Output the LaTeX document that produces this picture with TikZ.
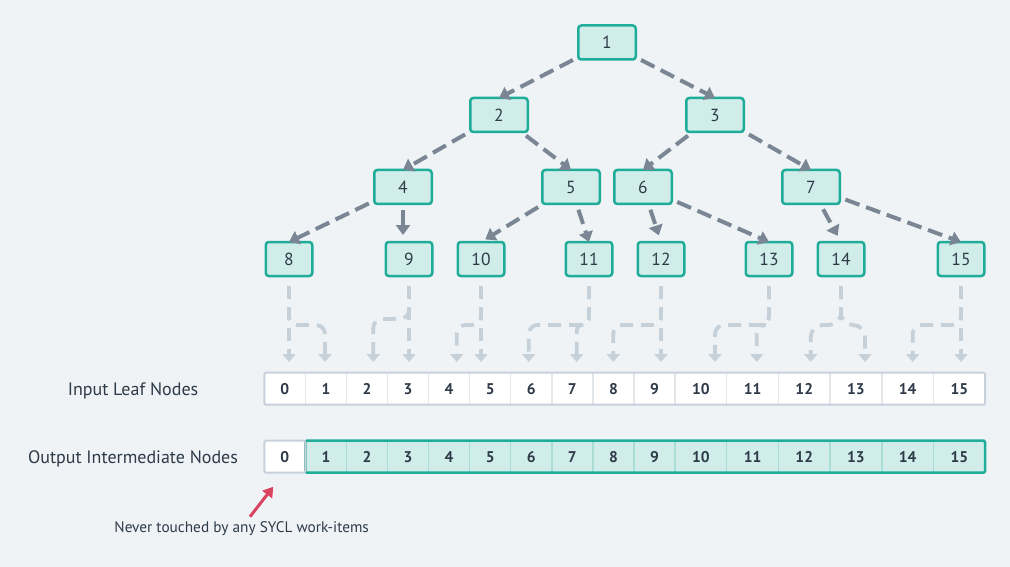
\documentclass[tikz,border=0pt]{standalone}
\usepackage{fontspec}
\setmainfont{PT Sans}
\usetikzlibrary{arrows.meta,calc}
\definecolor{bgc}{HTML}{EFF3F6}
\definecolor{tealb}{HTML}{1FAD9A}
\definecolor{tealf}{HTML}{D0EDEA}
\definecolor{tealdiv}{HTML}{A8DDD5}
\definecolor{darka}{HTML}{7A8694}
\definecolor{lighta}{HTML}{C6D0D9}
\definecolor{grayb}{HTML}{C8D1D9}
\definecolor{grayd}{HTML}{E2E7EC}
\definecolor{txt}{HTML}{2E3A48}
\definecolor{redc}{HTML}{D9435F}
\begin{document}
\begin{tikzpicture}[x=1pt,y=-1pt,
  tnode/.style={draw=tealb, fill=tealf, line width=2.5pt, rounded corners=3pt,
    minimum width=57.5pt, minimum height=34pt, inner sep=0pt, outer sep=0pt,
    text=txt, font=\fontsize{17.5}{17.5}\selectfont},
  lnode/.style={tnode, minimum width=46.5pt},
  treearrow/.style={draw=darka, line width=4pt, dash pattern=on 15pt off 7pt,
    -{Triangle[width=14pt,length=10pt]}, shorten <=6pt},
  leafarrow/.style={draw=lighta, line width=3.8pt, dash pattern=on 13pt off 8pt,
    -{Triangle[width=13pt,length=8pt]}, shorten <=10pt, rounded corners=9pt},
  cellnode/.style={inner sep=0pt, outer sep=0pt, minimum height=32pt,
    text=txt, font=\fontsize{15.5}{15.5}\selectfont\bfseries},
  label/.style={text=txt, font=\fontsize{18}{18}\selectfont, anchor=base},
  divider/.style={draw=grayd, line width=1.5pt},
  tdivider/.style={draw=tealdiv, line width=1.5pt},
  redarrow/.style={draw=redc, line width=3pt, -{Triangle[width=12pt,length=10pt]}}
]
\fill[bgc] (0,0) rectangle (1010,567);
\useasboundingbox (0,0) rectangle (1010,567);

% tree nodes
\node[tnode] (n1) at (607,42.5) {1};
\node[tnode] (n2) at (499,115) {2};
\node[tnode] (n3) at (715,115) {3};
\node[tnode] (n4) at (403,187) {4};
\node[tnode] (n5) at (571,187) {5};
\node[tnode] (n6) at (643,187) {6};
\node[tnode] (n7) at (811,187) {7};
\node[lnode] (n8) at (289,259) {8};
\node[lnode] (n9) at (409,259) {9};
\node[lnode] (n10) at (481,259) {10};
\node[lnode] (n11) at (589,259) {11};
\node[lnode] (n12) at (661,259) {12};
\node[lnode] (n13) at (769,259) {13};
\node[lnode] (n14) at (841,259) {14};
\node[lnode] (n15) at (961,259) {15};

% tree arrows
\draw[treearrow] (n1) -- (n2.north);
\draw[treearrow] (n1) -- (n3.north);
\draw[treearrow] (n2) -- (n4.north);
\draw[treearrow] (n2) -- (n5.north);
\draw[treearrow] (n3) -- (n6.north);
\draw[treearrow] (n3) -- (n7.north);
\draw[treearrow] (n4) -- (n8.north);
\draw[treearrow, shorten >=7pt] (n4) -- (n4 |- n9.north);
\draw[treearrow, shorten >=5pt] (n5) -- (n10.north);
\draw[treearrow] (n5) -- (n11.north);
\draw[treearrow, shorten >=7pt] (n6) -- (n12.north);
\draw[treearrow] (n6) -- (n13.north);
\draw[treearrow, shorten >=7pt] (n7) -- (n14.north);
\draw[treearrow] (n7) -- (n15.north);

% arrays
\foreach \i in {0,...,15} {
  \pgfmathsetmacro{\cx}{\i<10 ? 264.3+41.07*\i+20.535 : 675+51.7*(\i-10)+25.85}
  \pgfmathsetmacro{\w}{\i<10 ? 41.07 : 51.7}
  \node[cellnode, fill=white, minimum width=\w pt] (i\i) at (\cx,388.7) {\i};
  \ifnum\i=0
    \node[cellnode, fill=white, minimum width=\w pt] (o\i) at (\cx,456.7) {\i};
  \else
    \node[cellnode, fill=tealf, minimum width=\w pt] (o\i) at (\cx,456.7) {\i};
  \fi
}
\foreach \i in {1,...,15} {
  \draw[divider] (i\i.north west) -- (i\i.south west);
}
\foreach \i in {2,...,15} {
  \draw[tdivider] (o\i.north west) -- (o\i.south west);
}
\draw[draw=grayb, line width=2pt, rounded corners=1.5pt] (i0.north west) rectangle (i15.south east);
\draw[draw=tealb, line width=2.5pt, rounded corners=1.5pt] (o1.north west) rectangle (o15.south east);
\draw[draw=grayb, line width=2pt, rounded corners=1.5pt] (o0.north west) rectangle (o0.south east);

% labels
\node[label] (lin) at (133,395.5) {Input Leaf Nodes};
\node[label] (lout) at (133,463) {Output Intermediate Nodes};

% leaf-to-array arrows
\coordinate (hA) at (0,325);
\coordinate (hB) at (0,319);
\coordinate (t0) at (289,362);
\coordinate (t1) at (325,362);
\coordinate (t2) at (373.3,362);
\coordinate (t3) at (409,362);
\coordinate (t4) at (456.7,362);
\coordinate (t5) at (481,362);
\coordinate (t6) at (528.7,362);
\coordinate (t7) at (576.7,362);
\coordinate (t8) at (613.3,362);
\coordinate (t9) at (661,362);
\coordinate (t10) at (715,362);
\coordinate (t11) at (756.7,362);
\coordinate (t12) at (810.7,362);
\coordinate (t13) at (865,362);
\coordinate (t14) at (912.7,362);
\coordinate (t15) at (961,362);

\draw[leafarrow] (n8.south) -- (t0);
\draw[leafarrow] (n8.south) -- (n8 |- hA) -- (t1 |- hA) -- (t1);
\draw[leafarrow] (n9.south) -- (t3);
\draw[leafarrow] (n9.south) -- (n9 |- hB) -- (t2 |- hB) -- (t2);
\draw[leafarrow] (n10.south) -- (t5);
\draw[leafarrow] (n10.south) -- (n10 |- hA) -- (t4 |- hA) -- (t4);
\draw[leafarrow] (n11.south) -- (n11 |- hA) -- (t6 |- hA) -- (t6);
\draw[leafarrow, rounded corners=6pt] (n11.south) -- (n11 |- hA) -- (t7 |- hA) -- (t7);
\draw[leafarrow] (n12.south) -- (t9);
\draw[leafarrow] (n12.south) -- (n12 |- hA) -- (t8 |- hA) -- (t8);
\draw[leafarrow] (n13.south) -- (n13 |- hA) -- (t10 |- hA) -- (t10);
\draw[leafarrow] (n13.south) -- (n13 |- hA) -- (t11 |- hA) -- (t11);
\draw[leafarrow, rounded corners=12pt] (n14.south) -- (n14 |- hA) -- (t12 |- hA) -- (t12);
\draw[leafarrow, rounded corners=12pt] (n14.south) -- (n14 |- hA) -- (t13 |- hA) -- (t13);
\draw[leafarrow] (n15.south) -- (t15);
\draw[leafarrow] (n15.south) -- (n15 |- hA) -- (t14 |- hA) -- (t14);

% note
\node[text=txt, font=\fontsize{15.3}{15.3}\selectfont, anchor=base] (note) at (241.7,532.5) {Never touched by any SYCL work-items};
\coordinate (rstart) at (250,516.7);
\coordinate (rtip) at (273.3,486.7);
\draw[redarrow] (rstart) -- (rtip);
\end{tikzpicture}
\end{document}
